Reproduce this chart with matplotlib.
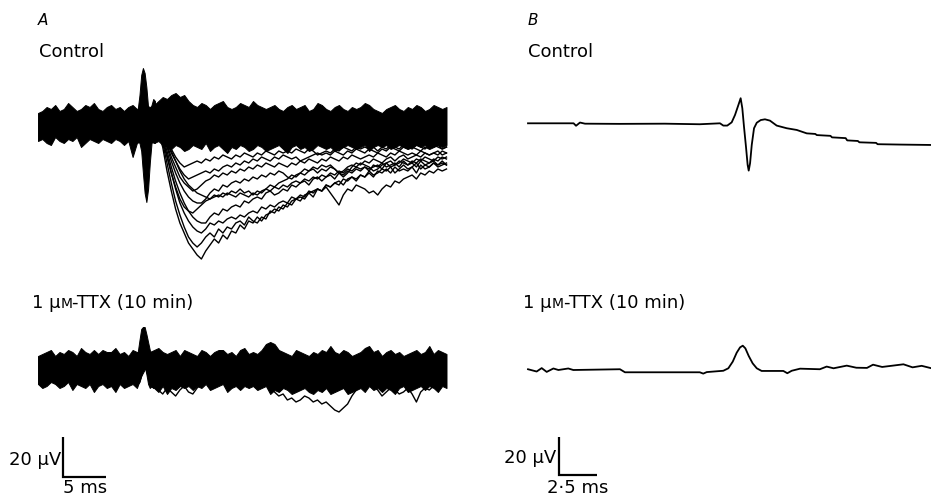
import numpy as np
import matplotlib
matplotlib.use("Agg")
import matplotlib.pyplot as plt

# ---------------------------------------------------------------------------
# Panel A: superimposed sweeps (time in ms, potential in µV, baseline = 0)
# ---------------------------------------------------------------------------
# sample times of the noise envelopes, 0.5 ms apart
t_A = np.arange(96) * 0.5

# upper / lower edge of the dense band of control sweeps
ctrl_hi = [5, 6, 8, 7, 9, 6, 7, 10, 8, 6,
           7, 9, 8, 10, 7, 6, 8, 9, 7, 8,
           6, 8, 9, 7, 8, 9, 8, 9, 11, 13,
           12, 14, 15, 13, 14, 11, 9, 8, 10, 9,
           7, 9, 10, 11, 8, 7, 8, 10, 9, 8,
           11, 9, 8, 7, 8, 9, 7, 6, 8, 9,
           7, 8, 9, 6, 7, 10, 9, 7, 6, 8,
           9, 7, 6, 8, 7, 8, 10, 9, 7, 6,
           5, 7, 8, 9, 7, 6, 8, 7, 9, 8,
           6, 7, 9, 8, 7, 8]
ctrl_lo = [-9, -8, -10, -11, -7, -9, -10, -8, -9, -7,
           -12, -10, -8, -9, -10, -8, -9, -10, -8, -9,
           -11, -9, -17, -10, -9, -9, -9, -10, -9, -11,
           -12, -13, -11, -12, -14, -13, -11, -12, -13, -10,
           -14, -12, -11, -13, -15, -12, -13, -11, -12, -14,
           -13, -11, -12, -14, -13, -12, -11, -13, -15, -12,
           -11, -13, -12, -14, -13, -11, -12, -13, -12, -14,
           -13, -12, -11, -12, -13, -12, -11, -14, -12, -11,
           -12, -11, -13, -12, -11, -12, -13, -12, -11, -12,
           -11, -13, -12, -11, -12, -11]

# stimulus artefact (finer sampling)
art_t = [11.6, 11.8, 12.0, 12.2, 12.4, 12.6, 12.8, 13.0, 13.2, 13.4, 13.6]
ctrl_art_hi = [7, 14, 24, 27.5, 25, 18, 8, 6, 9, 12, 11]
ctrl_art_lo = [-9, -10, -14, -25, -35, -39.5, -33, -20, -10, -9, -10]

# individual evoked field potentials (control), 13.5 - 47.5 ms
t_ev = 13.5 + np.arange(69) * 0.5
ev1 = [-2, -5, -12, -24, -34, -43, -50, -55, -60, -63,
       -66, -68, -64, -61, -58, -60, -56, -58, -54, -55,
       -51, -53, -49, -50, -47, -49, -46, -45, -43, -44,
       -41, -42, -39, -38, -37, -38, -35, -34, -33, -34,
       -31, -32, -30, -29, -31, -28, -27, -29, -26, -27,
       -25, -27, -24, -25, -23, -25, -22, -24, -23, -24,
       -22, -25, -21, -23, -22, -20, -22, -21, -20]
ev2 = [-1, -4, -10, -20, -30, -39, -46, -52, -57, -60,
       -62, -60, -57, -55, -57, -53, -55, -52, -53, -50,
       -49, -51, -47, -49, -50, -47, -48, -44, -45, -42,
       -43, -40, -41, -38, -39, -36, -35, -37, -33, -34,
       -31, -32, -30, -31, -28, -29, -27, -28, -26, -27,
       -24, -26, -25, -23, -24, -22, -25, -23, -21, -23,
       -22, -20, -23, -21, -22, -20, -21, -19, -21]
ev3 = [-3, -4, -8, -16, -25, -33, -40, -45, -49, -52,
       -54, -55, -53, -50, -51, -49, -50, -48, -47, -48,
       -46, -47, -45, -44, -45, -42, -43, -41, -42, -40,
       -39, -40, -37, -38, -36, -37, -34, -35, -33, -34,
       -32, -35, -38, -41, -36, -33, -34, -31, -32, -33,
       -35, -34, -36, -33, -31, -32, -29, -30, -28, -27,
       -26, -28, -25, -26, -24, -25, -23, -24, -23]
ev4 = [0, -3, -7, -14, -22, -29, -35, -40, -44, -47,
       -49, -50, -50, -47, -45, -46, -43, -44, -42, -41,
       -42, -39, -40, -38, -37, -38, -35, -34, -36, -35,
       -33, -34, -31, -32, -30, -29, -31, -28, -27, -29,
       -27, -26, -28, -25, -26, -24, -25, -23, -24, -22,
       -23, -22, -21, -23, -20, -22, -21, -19, -20, -21,
       -19, -20, -18, -19, -20, -18, -19, -17, -18]
ev5 = [-2, -4, -9, -17, -25, -32, -38, -42, -44, -45,
       -43, -41, -39, -38, -36, -37, -35, -36, -34, -35,
       -33, -35, -34, -36, -34, -35, -33, -34, -32, -33,
       -31, -32, -30, -29, -30, -28, -29, -27, -28, -26,
       -27, -25, -26, -24, -25, -23, -24, -22, -23, -22,
       -24, -21, -22, -20, -22, -21, -20, -22, -19, -21,
       -20, -22, -19, -21, -20, -19, -21, -20, -21]
ev6 = [-1, -3, -6, -12, -19, -25, -30, -34, -37, -39,
       -40, -40, -38, -35, -33, -34, -31, -32, -30, -29,
       -30, -28, -29, -27, -28, -26, -27, -25, -26, -24,
       -25, -27, -28, -26, -25, -23, -24, -22, -23, -21,
       -22, -21, -23, -25, -27, -25, -22, -20, -21, -19,
       -20, -18, -19, -20, -18, -17, -19, -17, -16, -18,
       -17, -16, -17, -15, -16, -15, -16, -14, -15]
ev7 = [1, -2, -6, -11, -17, -22, -27, -30, -32, -34,
       -33, -31, -29, -28, -26, -27, -25, -26, -24, -25,
       -23, -24, -22, -23, -21, -22, -20, -21, -22, -20,
       -21, -22, -20, -21, -19, -20, -18, -19, -20, -18,
       -19, -17, -18, -19, -17, -18, -16, -17, -18, -17,
       -16, -17, -15, -16, -17, -15, -16, -14, -15, -16,
       -15, -16, -14, -15, -16, -15, -14, -16, -15]
ev8 = [-1, -3, -6, -10, -15, -19, -23, -26, -28, -27,
       -26, -25, -24, -25, -23, -24, -22, -21, -22, -20,
       -21, -19, -20, -18, -19, -17, -18, -19, -17, -18,
       -16, -17, -18, -17, -19, -18, -17, -16, -15, -16,
       -15, -16, -14, -15, -16, -14, -15, -13, -14, -15,
       -13, -14, -15, -13, -14, -12, -13, -14, -12, -13,
       -12, -13, -14, -12, -13, -11, -12, -13, -12]
ev9 = [0, -2, -5, -9, -13, -17, -20, -22, -21, -20,
       -19, -20, -18, -19, -17, -18, -16, -17, -18, -16,
       -17, -15, -16, -17, -15, -16, -14, -15, -16, -14,
       -15, -14, -15, -13, -14, -15, -13, -14, -16, -15,
       -14, -15, -13, -14, -12, -13, -14, -12, -13, -12,
       -13, -12, -14, -12, -13, -11, -12, -13, -11, -12,
       -13, -11, -12, -13, -11, -12, -11, -13, -12]
ev10 = [-1, -2, -5, -9, -14, -19, -24, -28, -31, -33,
        -35, -36, -37, -38, -37, -36, -37, -35, -36, -37,
        -35, -36, -37, -35, -36, -34, -33, -31, -32, -30,
        -29, -28, -26, -27, -25, -26, -24, -23, -25, -23,
        -24, -22, -23, -25, -24, -22, -21, -22, -20, -21,
        -22, -24, -23, -21, -20, -19, -21, -20, -18, -19,
        -20, -18, -19, -17, -18, -19, -17, -18, -17]
evoked = [ev1, ev2, ev3, ev4, ev5, ev6, ev7, ev8, ev9, ev10]

# TTX sweeps: band edges, artefact and a few straying sweeps
ttx_hi = [6, 7, 8, 9, 6, 8, 7, 9, 8, 6,
          10, 8, 7, 9, 7, 9, 8, 8, 10, 7,
          8, 6, 9, 8, 8, 8, 8, 9, 10, 8,
          7, 8, 9, 6, 9, 8, 7, 6, 9, 8,
          6, 8, 9, 9, 7, 8, 6, 9, 10, 7,
          8, 7, 9, 12, 13, 12, 9, 8, 7, 6,
          9, 8, 7, 6, 8, 7, 9, 8, 11, 8,
          7, 9, 8, 6, 7, 8, 10, 11, 8, 9,
          6, 8, 9, 7, 8, 6, 7, 8, 9, 7,
          8, 11, 7, 9, 8, 7]
ttx_lo = [-8, -10, -9, -7, -8, -10, -9, -7, -11, -8,
          -9, -10, -8, -12, -9, -8, -10, -9, -12, -8,
          -10, -9, -8, -10, -4, 0, -9, -10, -12, -9,
          -13, -10, -11, -9, -10, -9, -11, -9, -10, -8,
          -11, -10, -9, -8, -12, -10, -9, -11, -9, -10,
          -9, -11, -10, -9, -13, -11, -12, -10, -11, -13,
          -12, -11, -10, -12, -13, -11, -12, -10, -13, -12,
          -11, -10, -13, -12, -11, -10, -12, -9, -11, -10,
          -12, -10, -11, -13, -10, -9, -12, -11, -10, -9,
          -11, -9, -10, -12, -9, -10]
ttx_art_hi = [8, 14, 19.5, 20.5, 20.5, 17, 13, 9, 7, 8, 7]
ttx_art_lo = [-8, -7, -4, 0, 1, -3, -8, -10, -9, -10, -9]

ttx_stray1_t = 26.5 + np.arange(23) * 0.5
ttx_stray1 = [-8, -10, -12, -14, -13, -16, -15, -17, -16, -14, -15, -17,
              -16, -18, -17, -19, -21, -22, -20, -18, -14, -11, -9]
ttx_stray2_t = 39.0 + np.arange(15) * 0.5
ttx_stray2 = [-9, -11, -14, -12, -10, -11, -13, -12, -10, -13, -17, -12,
              -10, -11, -9]
ttx_stray3_t = 13.5 + np.arange(12) * 0.5
ttx_stray3 = [-8, -11, -13, -10, -12, -14, -11, -9, -12, -13, -10, -8]

# ---------------------------------------------------------------------------
# Panel B: averaged responses
# ---------------------------------------------------------------------------
b_ctrl_t = [0.0, 3.0, 3.16, 3.42, 3.75, 6.0, 9.0, 11.3, 12.63, 12.85,
            13.11, 13.40, 13.62, 13.84, 13.99, 14.10, 14.21, 14.34, 14.45, 14.52,
            14.61, 14.72, 14.87, 15.05, 15.31, 15.59, 15.92, 16.36, 17.02, 17.68,
            18.34, 18.9, 19.0, 19.9, 20.0, 20.9, 21.0, 21.7, 21.8, 22.9,
            23.0, 24.5, 26.5]
b_ctrl_v = [0.0, 0.0, -1.3, 0.4, -0.2, -0.3, -0.2, -0.5, 0.0, -1.2,
            -1.2, 0.5, 4.4, 9.6, 13.2, 7.9, -1.8, -12.3, -21.9, -24.9,
            -21.0, -11.4, -2.6, 0.3, 1.7, 2.1, 1.4, -1.2, -2.6, -3.5,
            -5.3, -5.6, -6.2, -6.6, -7.4, -7.8, -9.0, -9.3, -10.0, -10.3,
            -11.0, -11.2, -11.4]
b_ttx_t = [0.0, 0.57, 0.9, 1.23, 1.67, 2.0, 2.65, 2.98, 6.05, 6.38,
           11.3, 11.53, 11.76, 12.85, 13.18, 13.47, 13.73, 13.95, 14.13, 14.30,
           14.52, 14.78, 15.05, 15.37, 16.8, 17.06, 17.35, 17.9, 19.2, 19.65,
           20.1, 20.97, 21.6, 22.3, 22.7, 23.3, 24.0, 24.7, 25.3, 25.9,
           26.5]
b_ttx_v = [0.4, -0.8, 1.0, -1.0, 0.8, 0.0, 0.8, 0.0, 0.4, -1.2,
           -1.2, -1.9, -1.1, -0.4, 0.9, 4.4, 9.1, 11.9, 12.8, 11.4,
           7.4, 3.5, 0.9, -0.5, -0.5, -1.7, -0.4, 0.7, 0.4, 1.8,
           0.9, 2.3, 1.2, 1.1, 2.8, 1.6, 2.3, 3.0, 1.4, 2.2,
           1.0]

# ---------------------------------------------------------------------------
W, H = 931, 498
fig = plt.figure(figsize=(W / 100, H / 100), dpi=100)
fig.patch.set_facecolor("white")


def column_axes(x0, px_per_ms, px_per_uv):
    """Full-figure axes in ms / µV whose origin sits x0 pixels from the left."""
    ax = fig.add_axes([0, 0, 1, 1])
    ax.set_xlim(-x0 / px_per_ms, (W - x0) / px_per_ms)
    ax.set_ylim(-H / px_per_uv, 0)
    ax.axis("off")
    ax.patch.set_alpha(0)
    return ax


def scale_bar(ax, x_px, y_px, x0, px_per_ms, px_per_uv, ms, uv):
    t0 = (x_px - x0) / px_per_ms
    v0 = -y_px / px_per_uv
    ax.plot([t0, t0, t0 + ms], [v0 + uv, v0, v0], color="k", lw=1.6,
            solid_capstyle="butt", solid_joinstyle="miter")


# ---- column A ----
A_X0, A_PPM, A_PPU = 38, 8.6, 2.0
axA = column_axes(A_X0, A_PPM, A_PPU)

off = -123 / A_PPU  # control baseline row
axA.fill_between(t_A, np.array(ctrl_hi) + off, np.array(ctrl_lo) + off,
                 facecolor="k", edgecolor="k", lw=0.7)
axA.fill_between(art_t, np.array(ctrl_art_hi) + off, np.array(ctrl_art_lo) + off,
                 facecolor="k", edgecolor="k", lw=0.7)
for tr in evoked:
    axA.plot(t_ev, np.array(tr) + off, color="k", lw=1.0)

off = -368 / A_PPU  # TTX baseline row
axA.fill_between(t_A, np.array(ttx_hi) + off, np.array(ttx_lo) + off,
                 facecolor="k", edgecolor="k", lw=0.7)
axA.fill_between(art_t, np.array(ttx_art_hi) + off, np.array(ttx_art_lo) + off,
                 facecolor="k", edgecolor="k", lw=0.7)
for tt, tr in [(ttx_stray1_t, ttx_stray1), (ttx_stray2_t, ttx_stray2),
               (ttx_stray3_t, ttx_stray3)]:
    axA.plot(tt, np.array(tr) + off, color="k", lw=1.0)

scale_bar(axA, 63, 477, A_X0, A_PPM, A_PPU, 5, 20)

# ---- column B ----
B_X0, B_PPM, B_PPU = 528, 15.2, 1.9
axB = column_axes(B_X0, B_PPM, B_PPU)
axB.plot(b_ctrl_t, np.array(b_ctrl_v) - 123.3 / B_PPU, color="k", lw=1.3)
axB.plot(b_ttx_t, np.array(b_ttx_v) - 370 / B_PPU, color="k", lw=1.3)
scale_bar(axB, 559, 475, B_X0, B_PPM, B_PPU, 2.5, 20)

# ---- labels (pixel layout) ----
lab = fig.add_axes([0, 0, 1, 1])
lab.set_xlim(0, W)
lab.set_ylim(H, 0)
lab.axis("off")
lab.patch.set_alpha(0)

FS = 13
lab.text(38, 25, "A", fontsize=11, style="italic", va="baseline")
lab.text(528, 25, "B", fontsize=11, style="italic", va="baseline")
lab.text(39, 57, "Control", fontsize=FS, va="baseline")
lab.text(528, 57, "Control", fontsize=FS, va="baseline")


def ttx_label(x, y):
    t1 = lab.text(x, y, "1 μ", fontsize=FS, va="baseline")
    t2 = lab.annotate("M", xy=(1, y), xycoords=(t1, "data"),
                      fontsize=10, va="baseline", ha="left")
    lab.annotate("-TTX (10 min)", xy=(1, y), xycoords=(t2, "data"),
                 fontsize=FS, va="baseline", ha="left")


ttx_label(32, 308)
ttx_label(523, 308)

lab.text(61, 465, "20 μV", fontsize=FS, ha="right", va="baseline")
lab.text(85, 493, "5 ms", fontsize=FS, ha="center", va="baseline")
lab.text(556, 463, "20 μV", fontsize=FS, ha="right", va="baseline")
lab.text(578, 493, "2·5 ms", fontsize=FS, ha="center", va="baseline")

fig.savefig("out.png", dpi=100, facecolor="white")
